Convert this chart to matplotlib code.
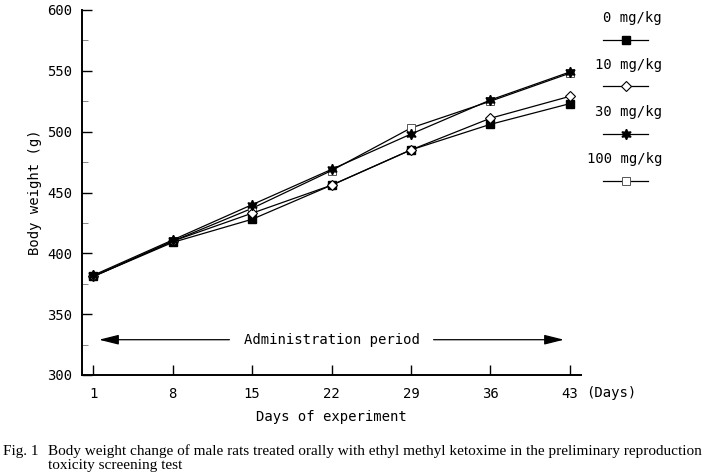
import matplotlib
matplotlib.use('Agg')
import matplotlib.pyplot as plt
from matplotlib.lines import Line2D

# data
days = [1, 8, 15, 22, 29, 36, 43]
bw_0 = [381, 409, 428, 456, 485, 506, 523]
bw_10 = [381, 410, 433, 456, 485, 511, 529]
bw_30 = [382, 411, 440, 469, 498, 526, 549]
bw_100 = [381, 410, 437, 468, 503, 525, 548]
labels = ['0 mg/kg', '10 mg/kg', '30 mg/kg', '100 mg/kg']
yticks = [300, 350, 400, 450, 500, 550, 600]

W, H = 709, 474
mono = 'DejaVu Sans Mono'
plt.rcParams['font.family'] = mono

fig = plt.figure(figsize=(W / 100, H / 100), dpi=100)
ax = fig.add_axes([82 / W, 1 - 375 / H, (581 - 82) / W, (375 - 10) / H])

star6 = (6, 1, 0)
styles = [
	dict(marker='s', mfc='black', mec='black', ms=6),
	dict(marker='D', mfc='white', mec='black', ms=5.5, mew=0.8),
	dict(marker=star6, mfc='black', mec='black', ms=7.5),
	dict(marker='s', mfc='white', mec='#555555', ms=6, mew=0.7),
]
series = [bw_0, bw_10, bw_30, bw_100]

# draw 100 first so the others sit on top
for i in [3, 0, 1, 2]:
	ax.plot(days, series[i], color='black', lw=0.9, **styles[i])

ax.set_xlim(0, 44)
ax.set_ylim(300, 600)
ax.set_xticks(days)
ax.set_yticks(yticks)
ax.set_yticks(range(325, 600, 50), minor=True)
ax.spines['top'].set_visible(False)
ax.spines['right'].set_visible(False)
for s in ['left', 'bottom']:
	ax.spines[s].set_linewidth(1.4)
ax.tick_params(axis='x', direction='in', length=7, width=1, pad=9, labelsize=10)
ax.tick_params(axis='y', which='major', direction='in', length=7, width=1, pad=7, labelsize=10)
ax.tick_params(axis='y', which='minor', direction='in', length=4, width=0.7, color='#888888')

ax.set_xlabel('Days of experiment', fontsize=10, labelpad=6)
ax.set_ylabel('Body weight (g)', fontsize=10, labelpad=4)
ax.text(1.01, -0.05, '(Days)', transform=ax.transAxes, fontsize=10, va='center', ha='left')

# administration period arrows
ax.text(22, 329, 'Administration period', fontsize=10, ha='center', va='center')
arw = dict(arrowstyle='-|>,head_length=1.2,head_width=0.3', color='black', lw=0.9,
	shrinkA=0, shrinkB=0)
ax.annotate('', xy=(1.5, 329), xytext=(13.0, 329), arrowprops=arw)
ax.annotate('', xy=(42.5, 329), xytext=(31.0, 329), arrowprops=arw)

# legend: label above line sample
for k, lab in enumerate(labels):
	ty = 18 + 47 * k
	ly = 39.5 + 47 * k
	fig.text(662 / W, 1 - ty / H, lab, fontsize=10, ha='right', va='center')
	fig.add_artist(Line2D([603 / W, 648 / W], [1 - ly / H, 1 - ly / H],
		transform=fig.transFigure, color='black', lw=0.9))
	fig.add_artist(Line2D([626 / W], [1 - ly / H], transform=fig.transFigure,
		linestyle='none', **styles[k]))

# caption
cap = dict(fontsize=11, family='Liberation Serif', va='center', ha='left')
fig.text(3 / W, 1 - 451 / H, 'Fig. 1', **cap)
fig.text(48 / W, 1 - 451 / H,
	'Body weight change of male rats treated orally with ethyl methyl ketoxime in the preliminary reproduction', **cap)
fig.text(48 / W, 1 - 466 / H, 'toxicity screening test', **cap)

fig.savefig('out.png', dpi=100)
